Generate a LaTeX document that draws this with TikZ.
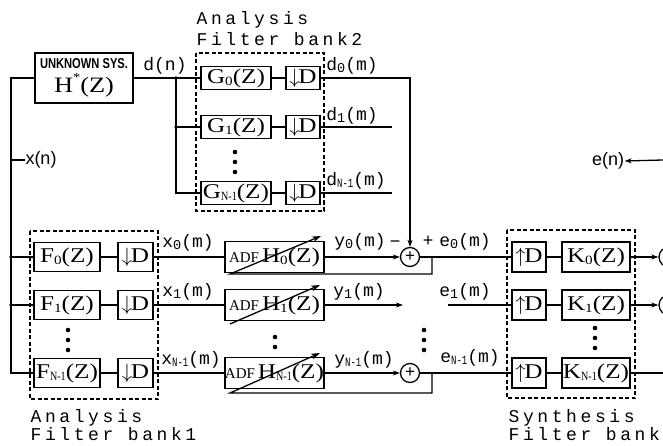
\documentclass[tikz,border=0pt]{standalone}
\usepackage{graphicx}
\usepackage{fontspec}
\setmainfont{Liberation Serif}
\newfontfamily\bxf{Liberation Serif}[FakeStretch=1.2]
\newfontfamily\lbf{Liberation Mono}
\newfontfamily\bankf{Liberation Mono}[LetterSpace=20]
\newfontfamily\ssf{Liberation Sans}
\usetikzlibrary{arrows.meta}
\newcommand\subx[1]{\raisebox{-0.3ex}{\scalebox{0.6}{#1}}}
\newcommand\subn{\raisebox{-0.3ex}{\scalebox{0.4}[0.6]{N-1}}}
\newcommand\lsub[1]{\raisebox{-0.2ex}{\scalebox{0.75}{#1}}}
\newcommand\lsubn{\raisebox{-0.2ex}{\scalebox{0.5}[0.7]{N-1}}}
\newcommand\dnD{{\fontsize{21}{21}\selectfont$\downarrow$}\kern-1.5pt D}
\newcommand\upD{{\fontsize{21}{21}\selectfont$\uparrow$}\kern-1.5pt D}
\newcommand\adf{{\fontsize{15}{15}\selectfont\addfontfeature{FakeStretch=1.0}ADF}\kern3pt H}
\begin{document}
\begin{tikzpicture}[x=1pt,y=-1pt,line width=1.3pt,
  blk/.style={draw,line width=1.3pt,inner sep=0pt,font=\bxf\fontsize{21}{21}\selectfont},
  gbox/.style={blk,minimum width=70,minimum height=23},
  dboxa/.style={blk,minimum width=34,minimum height=23},
  fbox/.style={blk,minimum width=66,minimum height=29},
  dboxb/.style={blk,minimum width=35,minimum height=29},
  adfbox/.style={blk,minimum width=99,minimum height=31},
  ubox/.style={blk,minimum width=34,minimum height=30},
  kbox/.style={blk,minimum width=68,minimum height=30},
  summer/.style={draw,circle,line width=1.3pt,minimum size=19,inner sep=0pt,font=\ssf\fontsize{17}{17}\selectfont},
  lab/.style={inner sep=0pt,font=\lbf\fontsize{18}{18}\selectfont},
  ssl/.style={inner sep=0pt,font=\ssf\fontsize{18}{18}\selectfont},
  banklab/.style={inner sep=0pt,anchor=base west,font=\bankf\fontsize{18}{18}\selectfont},
  dbx/.style={line width=1.4pt,dash pattern=on 4pt off 2.5pt},
  arr/.style={-{Stealth[length=7pt,width=5pt]}},
  darr/.style={-{Stealth[length=9pt,width=6pt]}},
  jdot/.style={radius=1.8},
]
\useasboundingbox (0,0) rectangle (663,446);
\clip (0,0) rectangle (663,446);

% unknown system
\node[blk,minimum width=98,minimum height=50,align=center] (hsys) at (84,78)
  {\resizebox{88pt}{10pt}{\ssf\bfseries UNKNOWN SYS.}\\[3pt]
   {\bxf\fontsize{22}{22}\selectfont H\raisebox{0.5em}{\fontsize{12}{12}\selectfont *}(Z)}};

% analysis filter bank 2
\node[gbox] (G0) at (236,78) {G\subx{0}(Z)};
\node[dboxa] (D20) at (303,78) {\dnD};
\node[gbox] (G1) at (236,127) {G\subx{1}(Z)};
\node[dboxa] (D21) at (303,127) {\dnD};
\node[gbox] (G2) at (236,193) {G\subn(Z)};
\node[dboxa] (D22) at (303,193) {\dnD};
\draw[dbx] (196,53) rectangle (324,211);
\foreach \yy in {152,162,172} \fill (235,\yy) circle[radius=2.3];
\node[banklab] (ab2a) at (196,25) {Analysis};
\node[banklab] (ab2b) at (196,46) {Filter bank2};

% analysis filter bank 1
\node[fbox] (F0) at (67,257) {F\subx{0}(Z)};
\node[dboxb] (D10) at (135.5,257) {\dnD};
\node[fbox] (F1) at (67,305) {F\subx{1}(Z)};
\node[dboxb] (D11) at (135.5,305) {\dnD};
\node[fbox] (F2) at (67,373) {F\subn(Z)};
\node[dboxb] (D12) at (135.5,373) {\dnD};
\draw[dbx] (30,231) rectangle (158,399);
\foreach \yy in {330,340,350} \fill (68,\yy) circle[radius=2.3];
\node[banklab] (ab1a) at (30,422) {Analysis};
\node[banklab] (ab1b) at (30,440) {Filter bank1};

% adaptive filters
\node[adfbox] (A0) at (274.5,257) {\adf\subx{0}(Z)};
\node[adfbox] (A1) at (274.5,305) {\adf\subx{1}(Z)};
\node[adfbox] (A2) at (274.5,373) {\adf\subn(Z)};
\foreach \yy in {337,347} \fill (275,\yy) circle[radius=2.3];

% summers
\node[summer] (S0) at (410,257) {+};
\node[summer] (S2) at (410,373) {+};
\foreach \yy in {330,340,350} \fill (424,\yy) circle[radius=2.3];
\node[ssl] (mn) at (395,244) {−};
\node[ssl] (pl) at (428,241) {+};

% synthesis filter bank
\node[ubox] (U0) at (529,257) {\upD};
\node[kbox] (K0) at (596,257) {K\subx{0}(Z)};
\node[ubox] (U1) at (529,305) {\upD};
\node[kbox] (K1) at (596,305) {K\subx{1}(Z)};
\node[ubox] (U2) at (529,373) {\upD};
\node[kbox] (K2) at (596,373) {K\subn(Z)};
\draw[dbx] (507,230) rectangle (635,398);
\foreach \yy in {328,338,348} \fill (595,\yy) circle[radius=2.3];
\node[banklab] (sba) at (508,422) {Synthesis};
\node[banklab] (sbb) at (508,440) {Filter bank};
\node[draw,circle,line width=1.3pt,minimum size=20] (C0) at (669,257) {};
\node[draw,circle,line width=1.3pt,minimum size=20] (C1) at (669,305) {};

% input distribution
\coordinate (L0) at (11,78);
\draw (hsys.west) -- (L0) |- (F2.west);
\draw (F0.west -| L0) -- (F0.west);
\draw (F1.west -| L0) -- (F1.west);
\fill (F0.west -| L0) circle[jdot];
\fill (F1.west -| L0) circle[jdot];
\coordinate (xn) at (11,160);
\node[ssl] (xnl) at (41,160) {x(n)};
\draw (xn) -- (xnl.west);

% desired signal distribution
\draw (hsys.east) -- (G0.west);
\node[lab] (dnl) at (165,66) {d(n)};
\coordinate (L2) at (176,78);
\draw (L2) |- (G2.west);
\draw (G1.west -| L2) -- (G1.west);
\fill (L2) circle[jdot];
\fill (G1.west -| L2) circle[jdot];
\draw (G0) -- (D20); \draw (G1) -- (D21); \draw (G2) -- (D22);
\draw[arr] (D20.east) -| (S0.north);
\coordinate (d1e) at (392,127);
\coordinate (d2e) at (392,193);
\draw (D21.east) -- (d1e);
\draw (D22.east) -- (d2e);
\node[lab] (d0l) at (352,66) {d\lsub{0}(m)};
\node[lab] (d1l) at (352,116) {d\lsub{1}(m)};
\node[lab] (d2l) at (356,181) {d\lsubn(m)};

% bank 1 to adaptive filters
\draw (F0) -- (D10); \draw (F1) -- (D11); \draw (F2) -- (D12);
\draw (D10) -- (A0); \draw (D11) -- (A1); \draw (D12) -- (A2);
\node[lab] (x0l) at (188,243) {x\lsub{0}(m)};
\node[lab] (x1l) at (188,292) {x\lsub{1}(m)};
\node[lab] (x2l) at (191,360) {x\lsubn(m)};

% adaptive filter outputs
\draw[arr] (A0) -- (S0);
\coordinate (y1e) at (403,305);
\draw[arr] (A1.east) -- (y1e);
\draw[arr] (A2) -- (S2);
\node[lab] (y0l) at (360,242) {y\lsub{0}(m)};
\node[lab] (y1l) at (359,292) {y\lsub{1}(m)};
\node[lab] (y2l) at (364,360) {y\lsubn(m)};

% errors and adaptation
\coordinate (fb0) at (432,257);
\coordinate (fb0b) at (230,274);
\coordinate (ad0) at (321,236);
\draw (S0) -- (U0);
\draw[darr] (fb0) |- (fb0b) -- (ad0);
\coordinate (ad1s) at (230,324);
\coordinate (ad1) at (320,285);
\draw[darr] (ad1s) -- (ad1);
\coordinate (e1s) at (448,305);
\draw (e1s) -- (U1.west);
\coordinate (fb2) at (432,373);
\coordinate (fb2b) at (230,393);
\coordinate (ad2) at (320,353);
\draw (S2) -- (U2);
\draw[darr] (fb2) |- (fb2b) -- (ad2);
\node[lab] (e0l) at (465,242) {e\lsub{0}(m)};
\node[lab] (e1l) at (465,292) {e\lsub{1}(m)};
\node[lab] (e2l) at (470,358) {e\lsubn(m)};

% synthesis internals and outputs
\draw (U0) -- (K0); \draw (U1) -- (K1); \draw (U2) -- (K2);
\draw[arr] (K0) -- (C0);
\draw[arr] (K1) -- (C1);
\coordinate (k2e) at (663,373);
\draw (K2.east) -- (k2e);

% e(n)
\coordinate (ene) at (663,160);
\node[ssl] (enl) at (608,161) {e(n)};
\draw[arr] (ene) -- (enl.east);
\end{tikzpicture}
\end{document}
